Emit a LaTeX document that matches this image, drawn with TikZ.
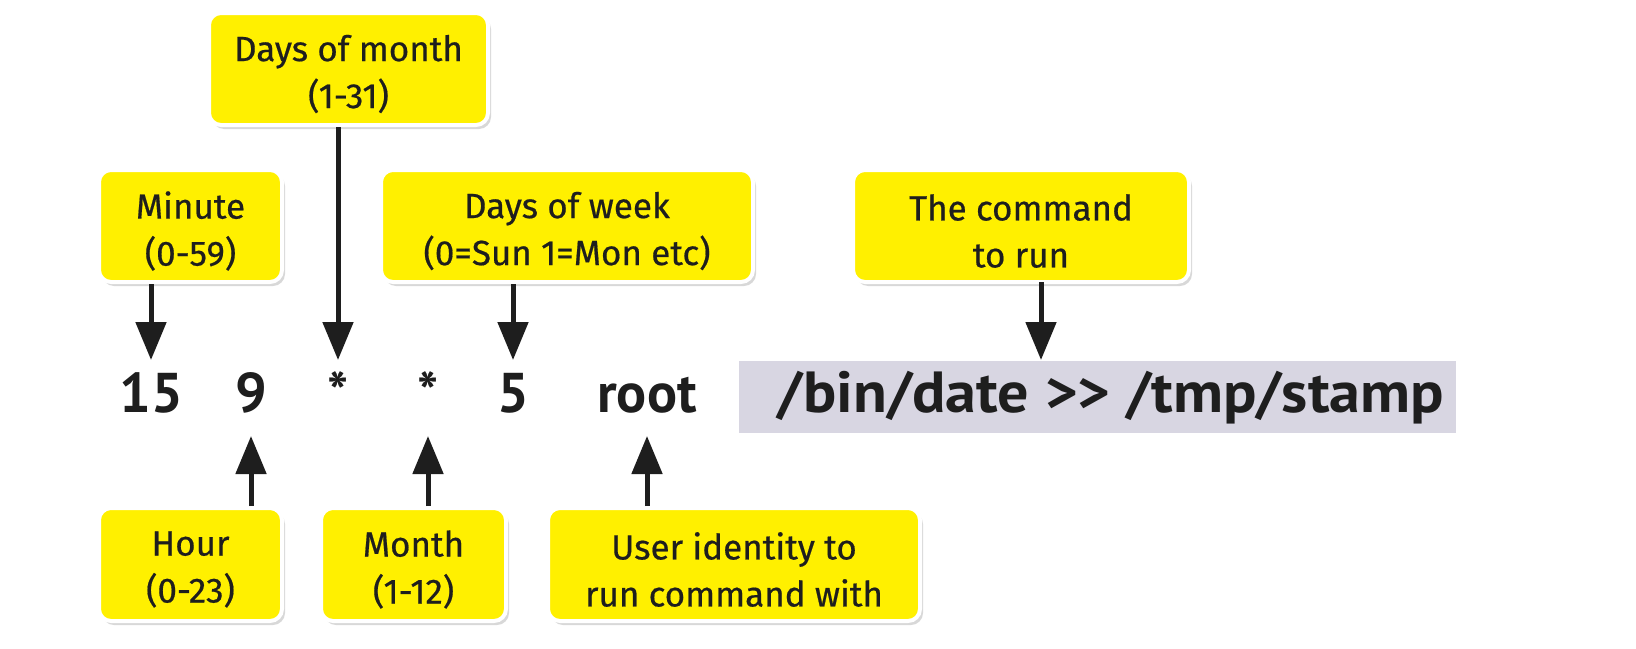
\documentclass[tikz,border=0pt]{standalone}
\usepackage{fontspec}
\setmainfont{PT Sans}
\newfontfamily\lblfont{Fira Sans}[FakeBold=0.5]
\usetikzlibrary{arrows.meta,shadows}
\definecolor{lblyellow}{RGB}{255,240,0}
\definecolor{cmdgray}{RGB}{216,214,226}
\definecolor{ink}{RGB}{30,30,30}
\tikzset{
  lbl/.style={rounded corners=12pt, fill=lblyellow, draw=white, line width=4pt,
    drop shadow={opacity=0.3, shadow xshift=3pt, shadow yshift=-4pt},
    inner sep=0pt},
  ltxt/.style={align=center, inner sep=0pt, text=ink, font=\lblfont\fontsize{35}{47}\selectfont, yshift=-5pt},
  rowtxt/.style={anchor=base, inner sep=0pt, text=ink, font=\bfseries\fontsize{56}{60}\selectfont},
  arr/.style={draw=ink, line width=5pt, -{Triangle[width=30pt,length=38pt]}}
}
\begin{document}
\begin{tikzpicture}[x=1pt,y=-1pt]
\useasboundingbox[fill=white] (0,0) rectangle (1636,648);
% command background
\node[fill=cmdgray, minimum width=717pt, minimum height=72pt, inner sep=0pt] (cmdbg) at (1097.5,397) {};
% row
\node[rowtxt] (n15) at (151,412) {15};
\node[rowtxt] (n9) at (251,412) {9};
\node[rowtxt] (s1) at (338,412) {*};
\node[rowtxt] (s2) at (428,412) {*};
\node[rowtxt] (n5) at (513,412) {5};
\node[rowtxt] (root) at (647,412) {root};
\node[rowtxt, font=\bfseries\fontsize{58}{60}\selectfont\addfontfeature{FakeStretch=1.07}] (cmd) at (1111,412) {/bin/date >{}> /tmp/stamp};
\coordinate (toptip) at (0,360);
\coordinate (bottip) at (0,436);
% labels
\node[lbl, minimum width=279pt, minimum height=112pt] (dom) at (348.5,69) {};
\node[lbl, minimum width=183pt, minimum height=112pt] (min) at (190.5,226) {};
\node[lbl, minimum width=372pt, minimum height=112pt] (dow) at (567,226) {};
\node[lbl, minimum width=336pt, minimum height=112pt] (tcmd) at (1021,226) {};
\node[lbl, minimum width=183pt, minimum height=113pt] (hour) at (190.5,564.5) {};
\node[lbl, minimum width=185pt, minimum height=113pt] (month) at (413.5,564.5) {};
\node[lbl, minimum width=372pt, minimum height=113pt] (user) at (734,564.5) {};
\node[ltxt] at (dom) {Days of month\\(1-31)};
\node[ltxt] at (min) {Minute\\(0-59)};
\node[ltxt] at (dow) {Days of week\\(0=Sun 1=Mon etc)};
\node[ltxt] at (tcmd) {The command\\to run};
\node[ltxt] at (hour) {Hour\\(0-23)};
\node[ltxt] at (month) {Month\\(1-12)};
\node[ltxt] at (user) {User identity to\\run command with};
% arrows
\draw[arr] (n15 |- min.south) -- (n15 |- toptip);
\draw[arr] (s1 |- dom.south) -- (s1 |- toptip);
\draw[arr] (n5 |- dow.south) -- (n5 |- toptip);
\draw[arr] (1041,282) coordinate (ca) -- (ca |- toptip);
\draw[arr] (n9 |- hour.north) -- (n9 |- bottip);
\draw[arr] (s2 |- month.north) -- (s2 |- bottip);
\draw[arr] (root |- user.north) -- (root |- bottip);
\end{tikzpicture}
\end{document}
